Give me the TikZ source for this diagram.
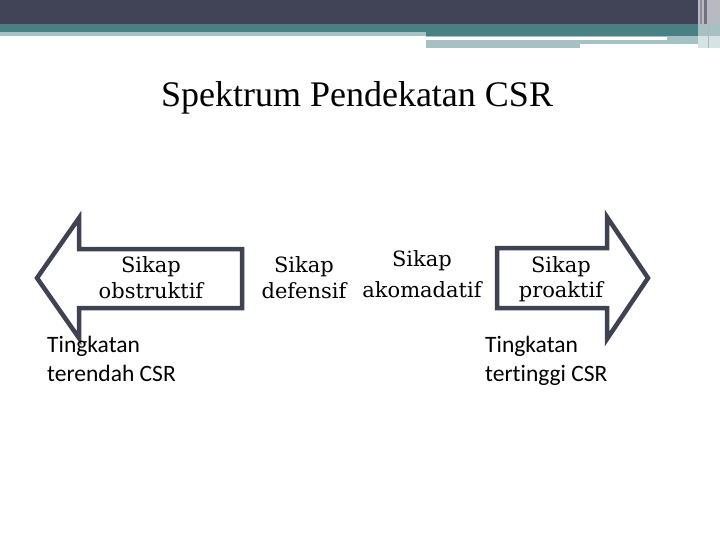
\documentclass[tikz,border=0pt]{standalone}
\usepackage{fontspec}
\setmainfont{Liberation Serif}
\newfontfamily\arrowfont{DejaVu Serif}
\newfontfamily\notefont[Ligatures=NoCommon]{Carlito}
\definecolor{banddark}{HTML}{414356}
\definecolor{bandteal}{HTML}{4A7F83}
\definecolor{bandlight}{HTML}{A6C0C3}
\definecolor{bandpale}{HTML}{D5E3E4}
\definecolor{bandgray}{HTML}{B9B9C2}
\definecolor{arrowline}{HTML}{3F4250}
\tikzset{
  bigarrow/.style={draw=arrowline, line width=4.5pt, line join=miter, fill=white},
  arrowtext/.style={font=\arrowfont\fontsize{21}{25}\selectfont, align=center, inner sep=0pt, anchor=base},
  notetext/.style={font=\notefont\fontsize{23.5}{29.5}\selectfont, align=left, inner sep=0pt, anchor=base west},
  titletext/.style={font=\fontsize{36}{40}\selectfont, inner sep=0pt, anchor=base}
}
\begin{document}
\begin{tikzpicture}[x=1pt,y=-1pt]
\useasboundingbox (0,0) rectangle (720,540);
\fill[white] (0,0) rectangle (720,540);
% header bands
\fill[banddark] (0,0) rectangle (698,24);
\fill[bandteal] (0,24) rectangle (698,32);
\fill[bandteal] (426,32) rectangle (698,36);
\fill[bandlight] (0,32) rectangle (426,36);
\fill[bandlight] (426,36) rectangle (698,44);
\fill[white] (426,37) rectangle (667,40);
\fill[bandlight] (426,44) rectangle (580,48);
% right edge stripes
\fill[bandgray] (698,0) rectangle (720,24);
\fill[banddark!60] (700,0) rectangle (702,24);
\fill[banddark!75] (704,0) rectangle (707,24);
\fill[bandlight] (698,24) rectangle (720,36);
\fill[bandpale] (698,36) rectangle (720,48);
\fill[banddark!40] (708,24) rectangle (709,48);
% title
\node[titletext] (title) at (357,106.5) {Spektrum Pendekatan CSR};
% arrows
\draw[bigarrow] (37,278) -- (79,218) -- (79,249) -- (242,249) -- (242,308) -- (79,308) -- (79,338) -- cycle;
\draw[bigarrow] (497,248) -- (607,248) -- (607,217) -- (648,278) -- (607,339) -- (607,308) -- (497,308) -- cycle;
% arrow texts (anchor = baseline of last line)
\node[arrowtext] (obs) at (151,298) {Sikap\\obstruktif};
\node[arrowtext] (def) at (304,298) {Sikap\\defensif};
\node[arrowtext] (ako) at (422,297) {Sikap\\[6pt]akomadatif};
\node[arrowtext] (pro) at (561,297) {Sikap\\proaktif};
% notes
\node[notetext] (low) at (47,381.5) {Tingkatan\\terendah CSR};
\node[notetext] (high) at (485,381.5) {Tingkatan\\tertinggi CSR};
\end{tikzpicture}
\end{document}
